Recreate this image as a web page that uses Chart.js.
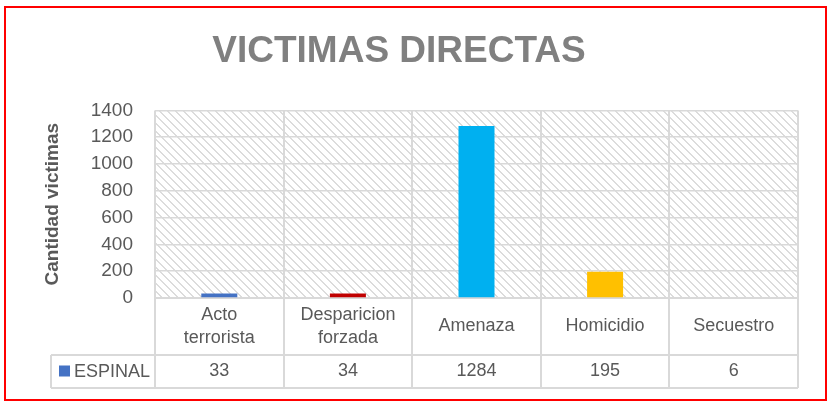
<!DOCTYPE html>
<html>
<head>
<meta charset="utf-8">
<script src="https://cdn.jsdelivr.net/npm/chart.js@4/dist/chart.umd.min.js"></script>
<style>
  body { margin: 0; background: #fff; }
  #wrap { position: relative; width: 827px; height: 402px; }
  #frame { position: absolute; left: 4px; top: 6px; width: 819px; height: 391px; border: 2px solid #ff0000; pointer-events: none; }
</style>
</head>
<body>
<div id="wrap">
  <canvas id="chart" width="827" height="402"></canvas>
  <div id="frame"></div>
</div>
<script>
// ===== Daten =====
const categories = [['Acto', 'terrorista'], ['Desparicion', 'forzada'], ['Amenaza'], ['Homicidio'], ['Secuestro']];
const seriesName = 'ESPINAL';
const values = [33, 34, 1284, 195, 6];
const barColors = ['#4472C4', '#C00000', '#00B0F0', '#FFC000', '#70AD47'];
const yMax = 1400;
const yStep = 200;

const FONT = "'Liberation Sans Narrow', 'Arial Narrow', 'Liberation Sans', Arial, sans-serif";
const GRID = '#d9d9d9';
const TEXT = '#595959';

// ===== Schraffur im Diagrammbereich =====
function makeHatch() {
  const c = document.createElement('canvas');
  c.width = 8; c.height = 8;
  const g = c.getContext('2d');
  g.fillStyle = '#ffffff';
  g.fillRect(0, 0, 8, 8);
  g.fillStyle = '#dcdcdc';
  for (let i = 0; i < 8; i++) {
    g.fillRect(i, i, 1, 1);
    g.fillRect((i + 1) % 8, i, 1, 1);
  }
  return c;
}

const hatchPlugin = {
  id: 'hatch',
  beforeDraw(chart) {
    const { ctx, chartArea: a } = chart;
    ctx.save();
    ctx.fillStyle = ctx.createPattern(makeHatch(), 'repeat');
    ctx.fillRect(a.left, a.top, a.right - a.left, a.bottom - a.top);
    ctx.restore();
  }
};

// ===== Datentabelle unter der Achse =====
const tablePlugin = {
  id: 'dataTable',
  afterDraw(chart) {
    const { ctx, chartArea: a } = chart;
    const xs = chart.scales.x;
    const rowSplit = a.bottom + 57;
    const tableBottom = a.bottom + 90;
    const legendLeft = 51;

    ctx.save();
    ctx.strokeStyle = GRID;
    ctx.lineWidth = 2;
    ctx.beginPath();
    ctx.moveTo(legendLeft, rowSplit); ctx.lineTo(a.right, rowSplit);
    ctx.moveTo(legendLeft, tableBottom); ctx.lineTo(a.right, tableBottom);
    ctx.moveTo(legendLeft, rowSplit); ctx.lineTo(legendLeft, tableBottom);
    ctx.stroke();

    ctx.fillStyle = TEXT;
    ctx.font = '18px ' + FONT;
    ctx.textAlign = 'center';
    ctx.textBaseline = 'middle';
    const labelMid = (a.bottom + rowSplit) / 2;
    const valueMid = (rowSplit + tableBottom) / 2;
    categories.forEach((lines, i) => {
      const x = xs.getPixelForValue(i);
      const lh = 23;
      const y0 = labelMid - (lines.length - 1) * lh / 2;
      lines.forEach((t, j) => ctx.fillText(t, x, y0 + j * lh));
      ctx.fillText(String(values[i]), x, valueMid);
    });

    // Legendenschluessel
    ctx.fillStyle = barColors[0];
    ctx.fillRect(legendLeft + 8, valueMid - 6, 11, 11);
    ctx.fillStyle = TEXT;
    ctx.textAlign = 'left';
    ctx.fillText(seriesName, legendLeft + 23, valueMid + 1);
    ctx.restore();
  }
};

new Chart(document.getElementById('chart'), {
  type: 'bar',
  data: {
    labels: categories,
    datasets: [{
      label: seriesName,
      data: values,
      backgroundColor: barColors,
      borderWidth: 0,
      categoryPercentage: 1,
      barPercentage: 0.28
    }]
  },
  options: {
    responsive: false,
    animation: false,
    layout: { padding: { left: 0, right: 29, top: 0, bottom: 0 } },
    plugins: {
      legend: { display: false },
      tooltip: { enabled: false },
      title: {
        display: true,
        text: 'VICTIMAS DIRECTAS',
        color: '#808080',
        font: { family: FONT, size: 37, weight: 'bold' },
        padding: { top: 30, bottom: 36 }
      }
    },
    scales: {
      x: {
        grid: { offset: true, color: GRID, lineWidth: 2, drawTicks: true, tickLength: 90, tickColor: GRID },
        border: { color: GRID, width: 2 },
        ticks: { display: false },
        afterFit(scale) { scale.height = 104; }
      },
      y: {
        min: 0,
        max: yMax,
        ticks: {
          stepSize: yStep,
          autoSkip: false,
          color: TEXT,
          font: { family: FONT, size: 19 },
          padding: 22,
          callback: (v) => String(v)
        },
        grid: { color: GRID, lineWidth: 1.5, drawTicks: false },
        border: { display: false },
        title: {
          display: true,
          text: 'Cantidad victimas',
          color: TEXT,
          font: { family: FONT, size: 19, weight: 'bold' },
          padding: { top: 41, bottom: 0 }
        },
        afterFit(scale) { scale.width = 155; }
      }
    }
  },
  plugins: [hatchPlugin, tablePlugin]
});
</script>
</body>
</html>
